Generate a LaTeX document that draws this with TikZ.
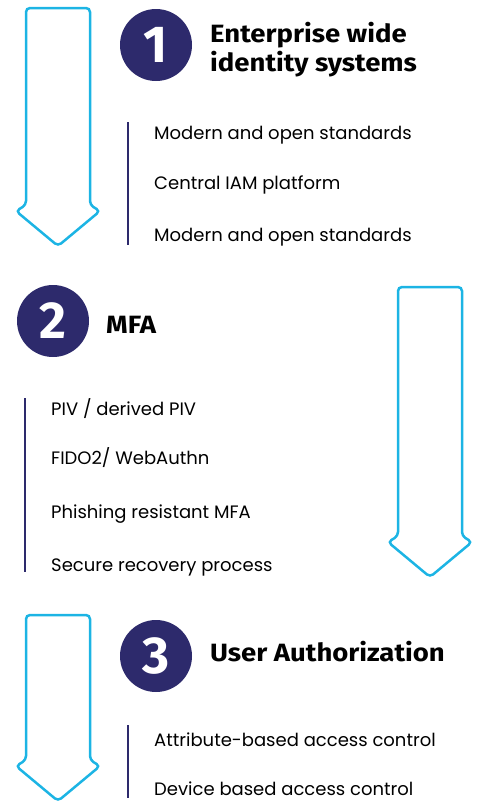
\documentclass[tikz,border=0pt]{standalone}
\usepackage{fontspec}
\setmainfont{Poppins}
\newfontfamily\headfont[FakeStretch=1.1]{Fira Sans}
\newfontfamily\digitfont{Fira Sans}
\usetikzlibrary{calc}
\definecolor{navy}{RGB}{45,42,108}
\definecolor{skyline}{RGB}{28,180,228}
\tikzset{flow/.style={draw=#1,line width=2.5pt,rounded corners=4pt},flow/.default=skyline}
\tikzset{badge/.style={circle,fill=#1,minimum size=72pt,inner sep=0pt,text=white,
    font=\digitfont\bfseries\fontsize{52}{52}\selectfont},badge/.default=navy}
\tikzset{heading/.style={anchor=base west,inner sep=0pt,align=left,
    font=\headfont\bfseries\fontsize{25}{29}\selectfont}}
\tikzset{item/.style={anchor=base west,inner sep=0pt,font=\fontsize{18}{20}\selectfont}}
\tikzset{rule/.style={color=#1,line width=2pt},rule/.default=navy}
% seta: centro x, topo, ponta
\newcommand{\flowarrow}[3]{%
  \draw[flow] (#1-32,#2) -- (#1+32,#2) -- (#1+32,#3-41) -- (#1+42,#3-35) --
    (#1,#3) -- (#1-42,#3-35) -- (#1-32,#3-41) -- cycle;}

\begin{document}
\begin{tikzpicture}[x=1pt,y=-1pt]
	\useasboundingbox (0,0) rectangle (478,804);

	% Setas
	\flowarrow{58}{8}{246}
	\flowarrow{430}{287}{577}
	\flowarrow{58}{615}{801}

	% Etapa 1
	\node[badge] (C1) at (156,45) {1};
	\node[heading] (H1) at (210,71) {Enterprise wide\\identity systems};
	\draw [rule] (128,122) -- (128,245);
	\node[item] (I11) at (154,139) {Modern and open standards};
	\node[item] (I12) at (154,189) {Central IAM platform};
	\node[item] (I13) at (154,241) {Modern and open standards};

	% Etapa 2
	\node[badge] (C2) at (53,321) {2};
	\node[heading] (H2) at (106,333) {MFA};
	\draw [rule] (25,398) -- (25,572);
	\node[item] (I21) at (51,415) {PIV / derived PIV};
	\node[item] (I22) at (51,464) {FIDO2/ WebAuthn};
	\node[item] (I23) at (51,518) {Phishing resistant MFA};
	\node[item] (I24) at (51,571) {Secure recovery process};

	% Etapa 3
	\node[badge] (C3) at (156,656) {3};
	\node[heading] (H3) at (210,661) {User Authorization};
	\draw [rule] (128,725) -- (128,798);
	\node[item] (I31) at (154,746) {Attribute-based access control};
	\node[item] (I32) at (154,795) {Device based access control};

\end{tikzpicture}
\end{document}
